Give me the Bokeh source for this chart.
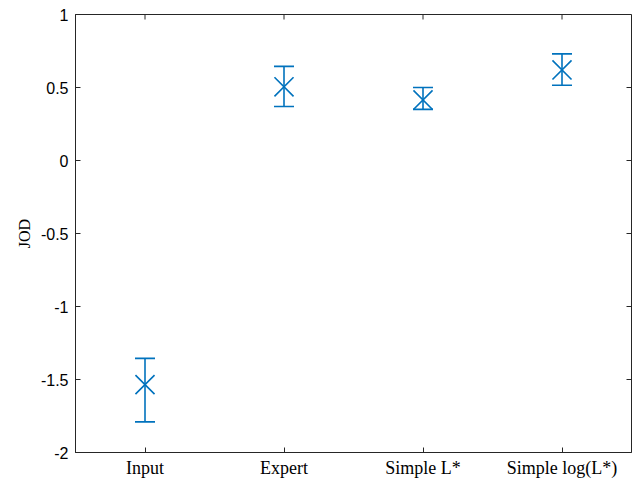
import math
from bokeh.plotting import figure
from bokeh.models import (FactorRange, Range1d, Whisker, ColumnDataSource,
                          FixedTicker, TeeHead, CustomJSTickFormatter)
from bokeh.embed import file_html
from bokeh.resources import INLINE

categories = ["Input", "Expert", "Simple L*", "Simple log(L*)"]
jod_mean = [-1.535, 0.505, 0.415, 0.62]
jod_lower = [-1.79, 0.37, 0.35, 0.515]
jod_upper = [-1.355, 0.645, 0.50, 0.73]
y_ticks = [-2, -1.5, -1, -0.5, 0, 0.5, 1]
y_min, y_max = -2, 1

color = "#0072BD"
axis_color = "#262626"
src = ColumnDataSource(dict(x=categories, y=jod_mean, lower=jod_lower, upper=jod_upper))

p = figure(width=635, height=480,
           x_range=FactorRange(factors=categories, range_padding=0),
           y_range=Range1d(y_min, y_max),
           output_backend="svg", toolbar_location=None,
           min_border_left=75, min_border_right=4, min_border_top=14, min_border_bottom=27)
p.background_fill_color = "white"
p.border_fill_color = "white"
p.xgrid.visible = False
p.ygrid.visible = False
p.outline_line_color = axis_color
p.outline_line_width = 1

tick_font = "Liberation Sans"
serif = "Liberation Serif"

# left axis
ya = p.yaxis[0]
ya.ticker = FixedTicker(ticks=y_ticks)
ya.formatter = CustomJSTickFormatter(code="return tick.toString();")
ya.major_tick_in = 5
ya.major_tick_out = 0
ya.minor_tick_in = 0
ya.minor_tick_out = 0
ya.major_label_standoff = 7
ya.major_label_text_font = tick_font
ya.major_label_text_font_size = "16px"
ya.major_label_text_color = "black"
ya.axis_line_color = axis_color
ya.major_tick_line_color = axis_color
ya.axis_label = "JOD"
ya.axis_label_text_font = serif
ya.axis_label_text_font_style = "normal"
ya.axis_label_text_font_size = "16px"
ya.axis_label_text_color = "black"
ya.axis_label_standoff = 5

# bottom axis
xa = p.xaxis[0]
xa.major_tick_in = 5
xa.major_tick_out = 0
xa.major_label_standoff = 5
xa.major_label_text_font = serif
xa.major_label_text_font_size = "18px"
xa.major_label_text_color = "black"
xa.axis_line_color = axis_color
xa.major_tick_line_color = axis_color

# mirrored ticks on the top and right edges of the box
n_y = len(y_ticks)
p.ray(x=[(categories[-1], 0.5)] * n_y, y=y_ticks, length=5, length_units="screen",
      angle=math.pi, line_color=axis_color, line_width=1)
p.ray(x=categories, y=[y_max] * len(categories), length=5, length_units="screen",
      angle=-math.pi / 2, line_color=axis_color, line_width=1)

whisker = Whisker(source=src, base="x", upper="upper", lower="lower",
                  line_color=color, line_width=1.6,
                  upper_head=TeeHead(size=20, line_color=color, line_width=1.6),
                  lower_head=TeeHead(size=20, line_color=color, line_width=1.6))
p.add_layout(whisker)
p.scatter(x="x", y="y", source=src, marker="x", size=27, line_color=color, line_width=1.6)

open("out.html", "w").write(file_html(p, INLINE))
